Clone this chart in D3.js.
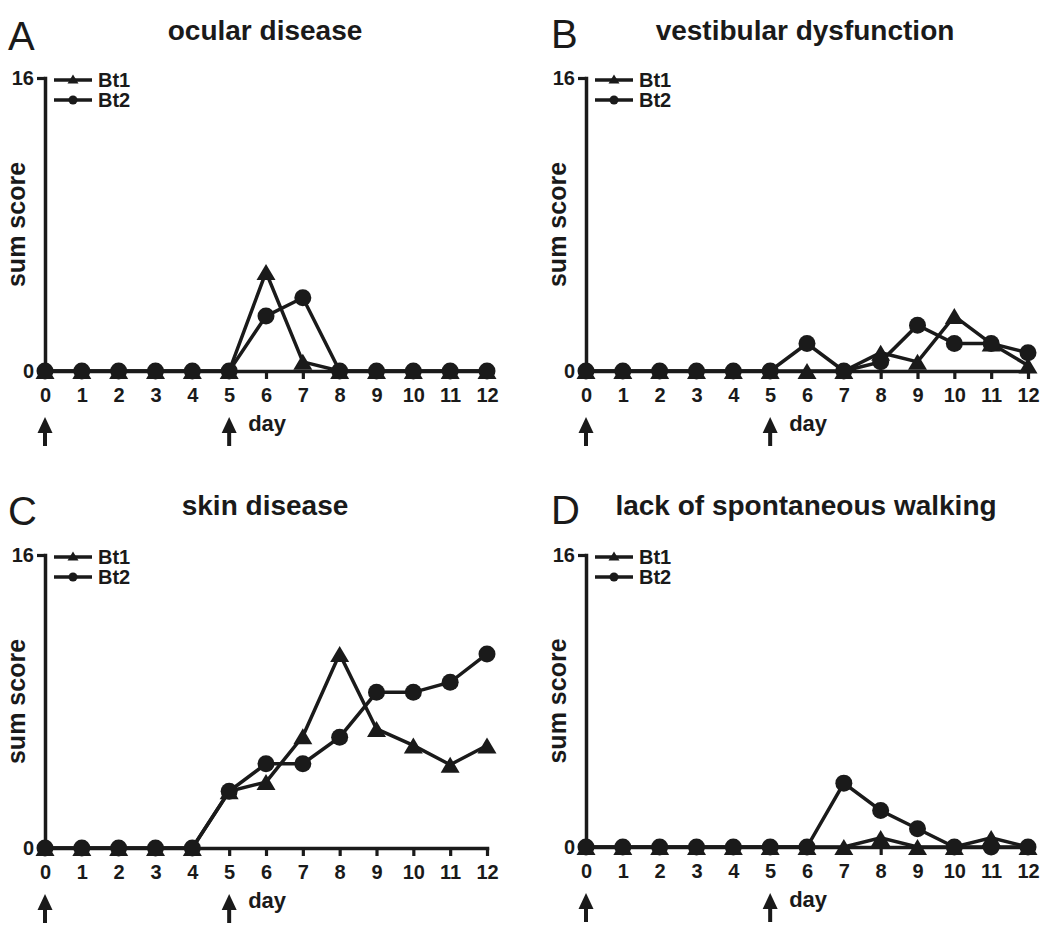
<!DOCTYPE html>
<html>
<head>
<meta charset="utf-8">
<script src="https://cdn.jsdelivr.net/npm/d3@7"></script>
<style>
  html, body { margin: 0; padding: 0; background: #ffffff; }
  svg { display: block; }
  text { font-family: "Liberation Sans", Arial, Helvetica, sans-serif; fill: #1a1a1a; }
</style>
</head>
<body>
<script>
// ---------------- data ----------------
const days = [0, 1, 2, 3, 4, 5, 6, 7, 8, 9, 10, 11, 12];
const yTicks = [0, 16];
const seriesNames = ["Bt1", "Bt2"];
const panelLetters = ["A", "B", "C", "D"];
const panelTitles = ["ocular disease", "vestibular dysfunction", "skin disease", "lack of spontaneous walking"];
const arrowDays = [0, 5];

const ocularBt1 = [0, 0, 0, 0, 0, 0, 5.4, 0.5, 0, 0, 0, 0, 0];
const ocularBt2 = [0, 0, 0, 0, 0, 0, 3.0, 4.0, 0, 0, 0, 0, 0];

const vestibularBt1 = [0, 0, 0, 0, 0, 0, 0, 0, 1.0, 0.5, 3.0, 1.5, 0.3];
const vestibularBt2 = [0, 0, 0, 0, 0, 0, 1.5, 0, 0.5, 2.5, 1.5, 1.5, 1.0];

const skinBt1 = [0, 0, 0, 0, 0, 3.1, 3.6, 6.1, 10.6, 6.5, 5.6, 4.55, 5.6];
const skinBt2 = [0, 0, 0, 0, 0, 3.1, 4.6, 4.6, 6.05, 8.5, 8.5, 9.05, 10.6];

const walkingBt1 = [0, 0, 0, 0, 0, 0, 0, 0, 0.5, 0, 0, 0.5, 0];
const walkingBt2 = [0, 0, 0, 0, 0, 0, 0, 3.5, 2.0, 1.0, 0, 0, 0];

const panelSeries = [
  [ocularBt1, ocularBt2],
  [vestibularBt1, vestibularBt2],
  [skinBt1, skinBt2],
  [walkingBt1, walkingBt2]
];

// ---------------- layout ----------------
const INK = "#1a1a1a";
const layout = [
  { x0: 45,  x1: 487,  yTop: 78,  yZero: 371, letter: [8, 50],   title: [265, 40] },
  { x0: 586, x1: 1028, yTop: 78,  yZero: 371, letter: [551, 48], title: [805, 40] },
  { x0: 45,  x1: 487,  yTop: 555, yZero: 848, letter: [8, 525],  title: [265, 515] },
  { x0: 586, x1: 1028, yTop: 555, yZero: 847, letter: [551, 524], title: [806, 515] }
];

const svg = d3.select("body").append("svg")
  .attr("width", 1050).attr("height", 934);
svg.append("rect").attr("width", 1050).attr("height", 934).attr("fill", "#fff");

const triPath = (h, w) => `M0,${-h}L${w},${h}L${-w},${h}Z`;

layout.forEach((L, i) => {
  const g = svg.append("g");
  const x = d3.scaleLinear().domain([0, 12]).range([L.x0, L.x1]);
  const y = d3.scaleLinear().domain([0, 16]).range([L.yZero, L.yTop]);

  // panel letter and title
  g.append("text").attr("x", L.letter[0]).attr("y", L.letter[1])
    .attr("font-size", 40).attr("font-weight", "normal").text(panelLetters[i]);
  g.append("text").attr("x", L.title[0]).attr("y", L.title[1])
    .attr("text-anchor", "middle").attr("font-size", 28).attr("font-weight", "bold")
    .text(panelTitles[i]);

  // axes
  const xAxis = d3.axisBottom(x).tickValues(days).tickSize(8).tickSizeOuter(0).tickPadding(9)
    .tickFormat(d3.format("d"));
  const yAxis = d3.axisLeft(y).tickValues(yTicks).tickSize(8).tickSizeOuter(0).tickPadding(3)
    .tickFormat(d3.format("d"));

  const gx = g.append("g").attr("transform", `translate(0,${L.yZero})`).call(xAxis);
  const gy = g.append("g").attr("transform", `translate(${L.x0},0)`).call(yAxis);
  [gx, gy].forEach(a => {
    a.select(".domain").attr("stroke", INK).attr("stroke-width", 3.5).attr("stroke-linecap", "square");
    a.selectAll(".tick line").attr("stroke", INK).attr("stroke-width", 3.2);
    a.selectAll(".tick text").attr("fill", INK).attr("font-size", 20).attr("font-weight", "bold")
      .attr("font-family", "Liberation Sans, Arial, sans-serif");
  });

  // y label
  g.append("text")
    .attr("transform", `translate(${L.x0 - 20},${(L.yTop + L.yZero) / 2}) rotate(-90)`)
    .attr("text-anchor", "middle").attr("font-size", 25).attr("font-weight", "bold")
    .text("sum score");

  // x label
  g.append("text").attr("x", x(5) + 19).attr("y", L.yZero + 60)
    .attr("font-size", 22).attr("font-weight", "bold").text("day");

  // arrows
  arrowDays.forEach(d => {
    const ax = x(d);
    g.append("line").attr("x1", ax).attr("x2", ax)
      .attr("y1", L.yZero + 58).attr("y2", L.yZero + 75)
      .attr("stroke", INK).attr("stroke-width", 4);
    g.append("path")
      .attr("d", `M${ax},${L.yZero + 46}L${ax + 7.5},${L.yZero + 62}L${ax - 7.5},${L.yZero + 62}Z`)
      .attr("fill", INK);
  });

  // lines
  const line = d3.line().x((v, k) => x(days[k])).y(v => y(v));
  panelSeries[i].forEach(vals => {
    g.append("path").attr("d", line(vals)).attr("fill", "none")
      .attr("stroke", INK).attr("stroke-width", 3.5).attr("stroke-linejoin", "miter");
  });

  // markers: Bt1 triangles, Bt2 circles
  g.selectAll(null).data(panelSeries[i][0]).enter().append("path")
    .attr("d", triPath(8, 9.5))
    .attr("transform", (v, k) => `translate(${x(days[k])},${y(v)})`)
    .attr("fill", INK);
  g.selectAll(null).data(panelSeries[i][1]).enter().append("circle")
    .attr("cx", (v, k) => x(days[k])).attr("cy", v => y(v)).attr("r", 8.5)
    .attr("fill", INK);

  // legend
  seriesNames.forEach((name, s) => {
    const ly = L.yTop + 2 + s * 20;
    const lx0 = L.x0 + 9, lx1 = L.x0 + 47;
    g.append("line").attr("x1", lx0).attr("x2", lx1).attr("y1", ly).attr("y2", ly)
      .attr("stroke", INK).attr("stroke-width", 3.5);
    const mx = (lx0 + lx1) / 2;
    if (s === 0) {
      g.append("path").attr("d", triPath(4.5, 5.5)).attr("transform", `translate(${mx},${ly - 1})`).attr("fill", INK);
    } else {
      g.append("circle").attr("cx", mx).attr("cy", ly).attr("r", 4.5).attr("fill", INK);
    }
    g.append("text").attr("x", L.x0 + 53).attr("y", ly + 7)
      .attr("font-size", 20).attr("font-weight", "bold").text(name);
  });
});
</script>
</body>
</html>
